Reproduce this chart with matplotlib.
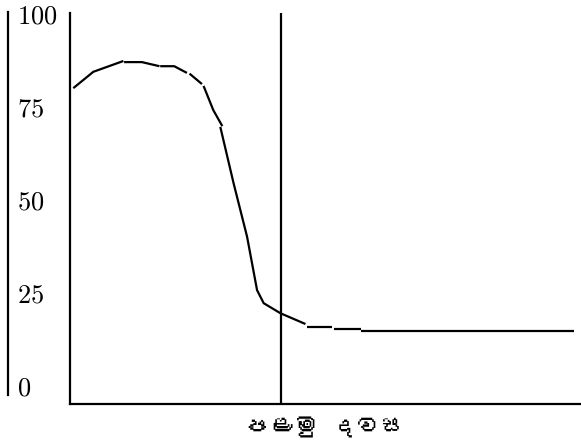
import matplotlib
matplotlib.use("Agg")
import matplotlib.pyplot as plt
from matplotlib import font_manager
from matplotlib.ft2font import FT2Font
from matplotlib.lines import Line2D

# curve, drawn as short strokes with little gaps
seg_x = [
    [0.33, 2.33, 5.33],
    [5.4, 7.17, 8.93],
    [9.0, 10.4, 11.67],
    [11.93, 13.17],
    [13.33, 14.3, 15.2],
    [15.0, 16.33, 17.67, 18.67, 19.33, 21.0, 23.5],
    [23.67, 26.17],
    [26.33, 29.0],
    [29.07, 50.3],
]
seg_y = [
    [79.8, 84.2, 87.1],
    [86.8, 86.8, 85.7],
    [85.7, 85.7, 83.9],
    [83.7, 80.9],
    [80.4, 73.9, 69.6],
    [69.4, 54.2, 39.9, 25.5, 22.0, 19.3, 16.4],
    [15.5, 15.5],
    [15.0, 15.0],
    [14.6, 14.6],
]
first_day = 21.07
y_ticks = [0, 25, 50, 75, 100]
x_label = "පළමු දවස"


def sinhala_font():
    # look for any installed font that has Sinhala glyphs
    for f in font_manager.fontManager.ttflist:
        try:
            if 0x0DB4 in FT2Font(f.fname).get_charmap():
                return f.name
        except Exception:
            pass
    return None


plt.rcParams['mathtext.fontset'] = 'cm'
plt.rcParams['font.family'] = ['DejaVu Serif']

fig = plt.figure(figsize=(5.81, 4.45), dpi=100)
ax = fig.add_axes([70 / 581, 1 - 404 / 445, 1 - 70 / 581, (404 - 13) / 445])

for xs, ys in zip(seg_x, seg_y):
    ax.plot(xs, ys, color='black', lw=1.6, solid_capstyle='butt')
ax.axvline(first_day, color='black', lw=1.6)

ax.set_xlim(0, 51)
ax.set_ylim(-5.1, 100)
ax.set_xticks([])
ax.set_yticks(y_ticks)
ax.set_yticklabels([f"${v}$" for v in y_ticks], fontsize=19, ha='left')
ax.tick_params(axis='y', length=0, pad=38)
for s in ['top', 'right']:
    ax.spines[s].set_visible(False)
for s in ['left', 'bottom']:
    ax.spines[s].set_linewidth(1.6)

sf = sinhala_font()
fam = [sf, 'DejaVu Sans'] if sf else ['DejaVu Sans']
ax.set_xlabel(x_label, fontsize=18, family=fam, labelpad=9)

# separate bar at the far left
fig.add_artist(Line2D([8 / 581, 8 / 581], [1 - 12 / 445, 1 - 395 / 445],
                      color='black', lw=1.6))

fig.savefig("out.png", dpi=100)
